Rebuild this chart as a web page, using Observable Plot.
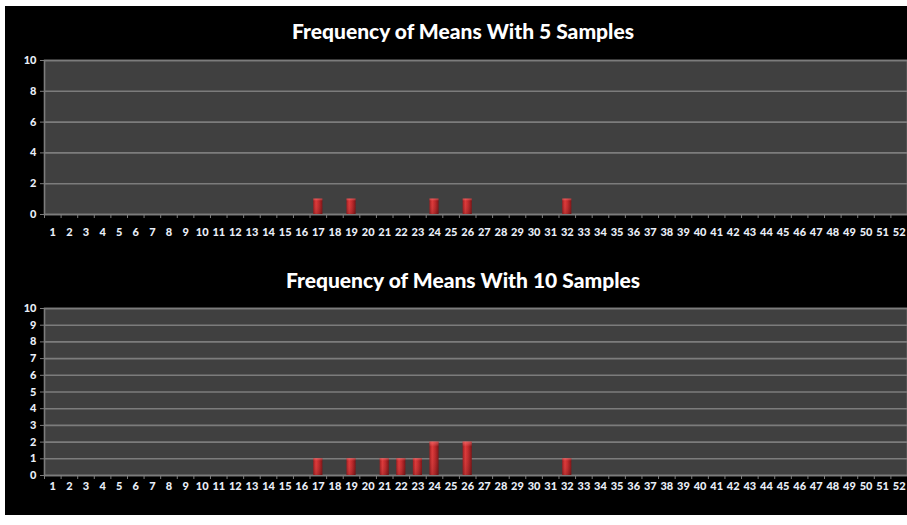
<!DOCTYPE html>
<html>
<head>
<meta charset="utf-8">
<script src="https://cdn.jsdelivr.net/npm/d3@7"></script>
<script src="https://cdn.jsdelivr.net/npm/@observablehq/plot@0.6"></script>
<style>
  html, body { margin: 0; padding: 0; background: #ffffff; }
  #frame { position: absolute; left: 5px; top: 6px; width: 902px; height: 509px; background: #000000; overflow: hidden; }
  .title { position: absolute; left: 0; width: 916px; text-align: center; color: #ffffff;
           font-family: Lato, "Open Sans", sans-serif; font-weight: 900; font-size: 21px; line-height: 26px; }
  .chart { position: absolute; left: 0; }
</style>
</head>
<body>
<div id="frame">
  <div class="title" id="t1" style="top: 12px;"></div>
  <div class="title" id="t2" style="top: 261px;"></div>
  <div class="chart" id="c1" style="top: 44px;"></div>
  <div class="chart" id="c2" style="top: 292px;"></div>
</div>
<script>
// ---- data ----
const categories = d3.range(1, 53); // 1..52
const title5 = "Frequency of Means With 5 Samples";
const title10 = "Frequency of Means With 10 Samples";
const means5Bins = [17, 19, 24, 26, 32];
const means5Counts = [1, 1, 1, 1, 1];
const means10Bins = [17, 19, 21, 22, 23, 24, 26, 32];
const means10Counts = [1, 1, 1, 1, 1, 2, 2, 1];
const yTicks5 = [0, 2, 4, 6, 8, 10];
const yTicks10 = [0, 1, 2, 3, 4, 5, 6, 7, 8, 9, 10];

const gridColor = "#7c7c7c";
const plotBg = "#404040";
const labelColor = "#e9eef8";
const W = 902, ML = 39, MR = 0;
const step = (W - ML - MR) / categories.length;

function makeChart(bins, counts, yTicks, height, mt, mb, xPad) {
  const data = bins.map((b, i) => ({bin: b, count: counts[i]}));
  const svg = Plot.plot({
    width: W, height, marginLeft: ML, marginRight: MR, marginTop: mt, marginBottom: mb,
    style: {background: "transparent", color: labelColor, fontFamily: "Lato, 'Open Sans', sans-serif",
            fontSize: "11px", fontWeight: "900"},
    x: {type: "band", domain: categories, paddingInner: 0.45, paddingOuter: 0.225, label: null},
    y: {domain: [0, 10], label: null},
    marks: [
      Plot.frame({fill: plotBg, stroke: null}),
      Plot.ruleY(yTicks, {stroke: gridColor, strokeWidth: 1.6}),
      Plot.frame({stroke: gridColor, strokeWidth: 1.6}),
      Plot.axisY({ticks: yTicks, tickSize: 4, tickPadding: 4, stroke: gridColor, fill: labelColor}),
      Plot.axisX({tickSize: 4, tickFormat: () => "", dx: -step / 2, stroke: gridColor}),
      Plot.axisX({tickSize: 0, tickPadding: xPad, fill: labelColor}),
      Plot.barY(data, {x: "bin", y: "count", fill: "url(#barGrad)"}),
      Plot.barY(data, {x: "bin", y: "count", fill: "url(#barTop)"})
    ]
  });
  const defs = d3.select(svg).insert("defs", ":first-child");
  const g = defs.append("linearGradient").attr("id", "barGrad").attr("x1", 0).attr("x2", 1).attr("y1", 0).attr("y2", 0);
  g.append("stop").attr("offset", "0%").attr("stop-color", "#a11d20");
  g.append("stop").attr("offset", "30%").attr("stop-color", "#dc3a3a");
  g.append("stop").attr("offset", "60%").attr("stop-color", "#c02a2c");
  g.append("stop").attr("offset", "100%").attr("stop-color", "#7d1315");
  const t = defs.append("linearGradient").attr("id", "barTop").attr("x1", 0).attr("x2", 0).attr("y1", 0).attr("y2", 1);
  t.append("stop").attr("offset", "0%").attr("stop-color", "#ff8080").attr("stop-opacity", 0.55);
  t.append("stop").attr("offset", "15%").attr("stop-color", "#ff8080").attr("stop-opacity", 0);
  t.append("stop").attr("offset", "100%").attr("stop-color", "#000000").attr("stop-opacity", 0.15);
  return svg;
}

document.getElementById("t1").textContent = title5;
document.getElementById("t2").textContent = title10;
document.getElementById("c1").appendChild(makeChart(means5Bins, means5Counts, yTicks5, 194, 10, 30, 14));
document.getElementById("c2").appendChild(makeChart(means10Bins, means10Counts, yTicks10, 202, 10, 25, 7));
</script>
</body>
</html>
